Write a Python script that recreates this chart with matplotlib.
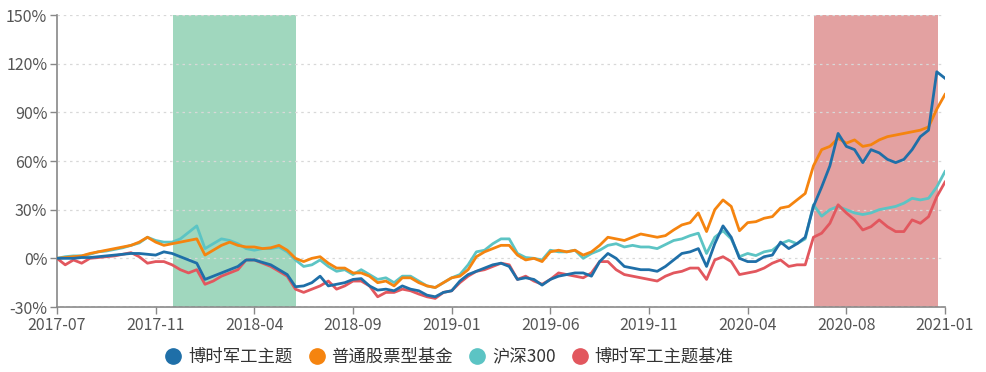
import matplotlib
matplotlib.use("Agg")
import matplotlib.pyplot as plt
from matplotlib.lines import Line2D
from matplotlib.ticker import FuncFormatter

plt.rcParams["font.family"] = ["Noto Sans CJK SC", "DejaVu Sans"]

# cumulative return (%) sampled at equal steps along the trading-day axis
tick_labels = ["2017-07", "2017-11", "2018-04", "2018-09", "2019-01",
               "2019-06", "2019-11", "2020-04", "2020-08", "2021-01"]

fund = [0, 0, 0, 0.5, 0.5, 1, 1.5, 2, 2.5, 3, 3, 2.5, 2,
        4, 3, 1, -1, -3, -13, -11, -9, -7, -5, -1, -1,
        -2.5, -4, -7, -10, -17.5, -17, -15, -11, -17, -16, -15, -13,
        -12.5, -17, -19.6, -19, -20, -17, -19, -20, -22.7, -23.7, -21, -20,
        -14, -10, -8, -6, -4, -3, -5, -13, -12, -13, -16.5, -13,
        -11, -10, -9, -9, -11, -2, 3, 0, -5, -6, -7, -7,
        -8, -5, -1, 3, 4, 6, -5, 9, 20, 13, 0, -2,
        -2, 1, 2, 10, 6, 9, 13, 32, 44, 57, 77, 69,
        67, 59, 67, 65, 61, 59, 61, 67, 75, 79, 115, 111]

peer = [0, 0.5, 1, 1.5, 3, 4, 5, 6, 7, 8, 10, 13, 10,
        8, 9, 10, 11, 12, 2, 5, 8, 10, 8, 7, 7,
        6, 6.5, 8, 5, 0, -2, 0, 1, -3, -6, -6, -9,
        -9, -11, -15, -14, -17, -12, -12, -15, -17, -18, -15, -12,
        -11, -7, 1, 4, 6, 8, 8, 2, -1, 0, -2, 4,
        5, 4, 5, 2, 4, 8, 13, 12, 11, 13, 15, 14,
        13, 14, 17.5, 20.6, 22, 28, 16.5, 30, 36, 32, 17, 22,
        22.6, 24.7, 25.7, 31, 32, 36, 40, 57, 67, 69, 74, 71,
        73, 69, 70, 73, 75, 76, 77, 78, 79, 81, 92, 101]

hs300 = [0, 1, 1.5, 1.5, 2.5, 4, 4.5, 5.5, 6.5, 8, 9.5, 13, 11,
         10, 10, 12, 16, 20, 6, 9, 12, 11, 9, 6, 5,
         6, 6, 7, 4, -1, -5, -4, -1, -5, -8, -7, -10,
         -7, -10, -13, -12, -15, -11, -11, -14, -17, -18, -15, -12,
         -10, -4, 4, 5, 9, 12, 12, 3, 0.5, 0, -1, 5,
         4, 4, 5, 0, 3, 5, 8, 9, 7, 8, 7, 7,
         6, 8.5, 11, 12, 14, 15.5, 3, 13, 17, 12, 1, 3,
         1.7, 4, 5, 9, 11, 9, 12, 33, 26, 30, 32, 30,
         28, 27, 28, 30, 31, 32, 34, 37, 36, 37, 44, 53.5]

bench = [0, -4, -1, -3, 0, 0.5, 1, 1.5, 2.5, 3.5, 1, -3, -2,
         -2, -4, -7, -9, -7, -16, -14, -11, -9, -7, -1, -1,
         -3, -5, -8, -11, -19, -21, -19, -17, -14, -19, -17, -14,
         -14, -17, -23.7, -21, -21, -19, -20, -22, -23.7, -24.7, -21, -20,
         -15, -11, -8, -7, -5, -3, -4, -13, -11, -14, -16, -13,
         -9, -10, -11, -12, -9, -2, -2, -7, -10, -11, -12, -13,
         -14, -11, -9, -8, -6, -6, -13, -1, 1, -2, -10, -9,
         -8, -6, -3, -1, -5, -4, -4, 13, 15.5, 21.6, 33, 28,
         23.7, 17.5, 19.5, 23.7, 19.5, 16.5, 16.5, 23.7, 21.6, 25.7, 38, 47]

names = ["博时军工主题", "普通股票型基金", "沪深300", "博时军工主题基准"]
colors = ["#1f6fa8", "#f5840f", "#5cc4c4", "#e2575e"]

# highlighted periods (in sample index units)
green_span = (14.1, 29.1)
red_span = (92.1, 107.1)

x = list(range(len(fund)))

fig = plt.figure(figsize=(9.87, 3.72), dpi=100)
ax = fig.add_axes([57 / 987, 65 / 372, 888 / 987, 292 / 372])

ax.axvspan(*green_span, color="#a0d7be", zorder=0, lw=0)
ax.axvspan(*red_span, color="#e3a1a1", zorder=0, lw=0)

for series, c in zip([hs300, bench, peer, fund], [colors[2], colors[3], colors[1], colors[0]]):
    ax.plot(x, series, color=c, lw=2.0, zorder=3)

ax.set_xlim(0, 108)
ax.set_ylim(-30, 150)
ax.set_yticks(range(-30, 151, 30))
ax.yaxis.set_major_formatter(FuncFormatter(lambda v, p: f"{int(v)}%"))
ax.set_xticks(range(0, 109, 12))
ax.set_xticklabels(tick_labels)

ax.grid(axis="y", color="#d8d8d8", linestyle=(0, (2, 3)), lw=0.9, zorder=1)
ax.set_axisbelow(False)
for s in ["top", "right"]:
    ax.spines[s].set_visible(False)
for s in ["left", "bottom"]:
    ax.spines[s].set_color("#888888")
    ax.spines[s].set_linewidth(1.2)
ax.tick_params(colors="#888888", labelcolor="#555555", labelsize=11.5, length=5, width=1)
ax.tick_params(axis="y", pad=2)
ax.tick_params(axis="x", pad=2)

handles = [Line2D([], [], color=c, marker="o", linestyle="none", markersize=11) for c in colors]
fig.legend(handles, names, loc="center", bbox_to_anchor=(0.455, 1 - 357 / 372),
           bbox_transform=fig.transFigure, ncol=4, frameon=False, fontsize=12.5,
           handlelength=1.0, handletextpad=0.35, columnspacing=0.9, labelcolor="#333333")

fig.savefig("out.png", dpi=100)
